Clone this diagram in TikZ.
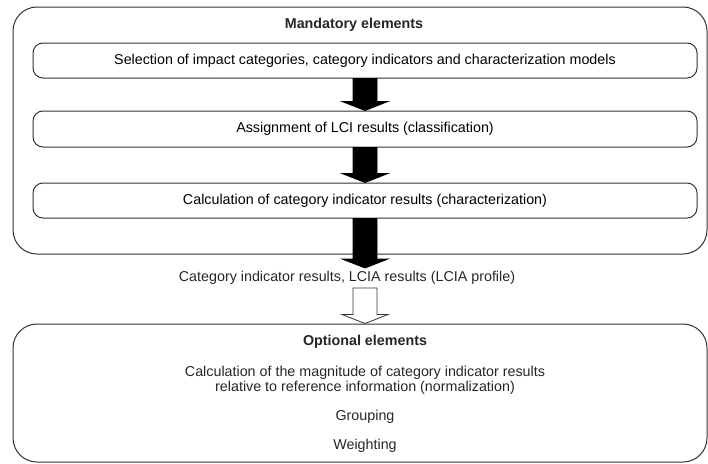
\documentclass[tikz,border=0pt]{standalone}
\usepackage{fontspec}
\setmainfont{Liberation Sans}
\usetikzlibrary{calc}

\tikzset{
  frame/.style={draw=black!80, line width=1pt, rounded corners=24pt},
  stage/.style={draw=black!80, line width=1pt, rounded corners=10pt,
    minimum width=664pt, inner sep=0pt},
  txt/.style={inner sep=0pt, align=center, text=black!85}
}

% block arrow from #2 to #3 (tip), style #1
\newcommand{\blockarrow}[3][]{%
  \draw[line width=0.8pt, #1] ($(#2)+(-12,0)$) -- ($(#3)+(-12,-9)$) -- ($(#3)+(-23,-9)$)
    -- (#3) -- ($(#3)+(23,-9)$) -- ($(#3)+(12,-9)$) -- ($(#2)+(12,0)$) -- cycle;}

\begin{document}
\begin{tikzpicture}[x=1pt, y=-1pt, font=\fontsize{14.3}{15}\selectfont]
	\useasboundingbox (0,0) rectangle (708,463);

	% Draw the mandatory frame
	\node[frame, minimum width=694pt, minimum height=247pt] (mandatory) at (360,130.5) {};
	\node[txt, font=\fontsize{14.3}{15}\selectfont\bfseries] (mandtitle) at (354,25) {Mandatory elements};

	% Draw the three steps
	\node[stage, minimum height=35pt] (select) at (365,60.5)
		{Selection of impact categories, category indicators and characterization models};
	\node[stage, minimum height=36pt] (assign) at (365,129) {Assignment of LCI results (classification)};
	\node[stage, minimum height=35pt] (calc) at (365,200.5)
		{Calculation of category indicator results (characterization)};

	% Label between the two frames
	\node[txt] (profile) at (347,278) {Category indicator results, LCIA results (LCIA profile)};
	\coordinate (profiletip) at (365,268);
	\coordinate (profiletail) at (365,288);

	% Draw the optional frame
	\node[frame, minimum width=694pt, minimum height=138pt] (optional) at (360,393) {};
	\coordinate (optionaltip) at (profiletail |- optional.north);
	\node[txt, font=\fontsize{14.3}{15}\selectfont\bfseries] (opttitle) at (365,342) {Optional elements};
	\node[txt] (normal) at (365,380) {Calculation of the magnitude of category indicator results\\
		relative to reference information (normalization)};
	\node[txt] (group) at (365,417) {Grouping};
	\node[txt] (weight) at (365,446) {Weighting};

	% Draw the arrows
	\blockarrow[fill=black]{select.south}{assign.north}
	\blockarrow[fill=black]{assign.south}{calc.north}
	\blockarrow[fill=black]{calc.south}{profiletip}
	\blockarrow[fill=white, draw=black!80]{profiletail}{optionaltip}
\end{tikzpicture}
\end{document}
